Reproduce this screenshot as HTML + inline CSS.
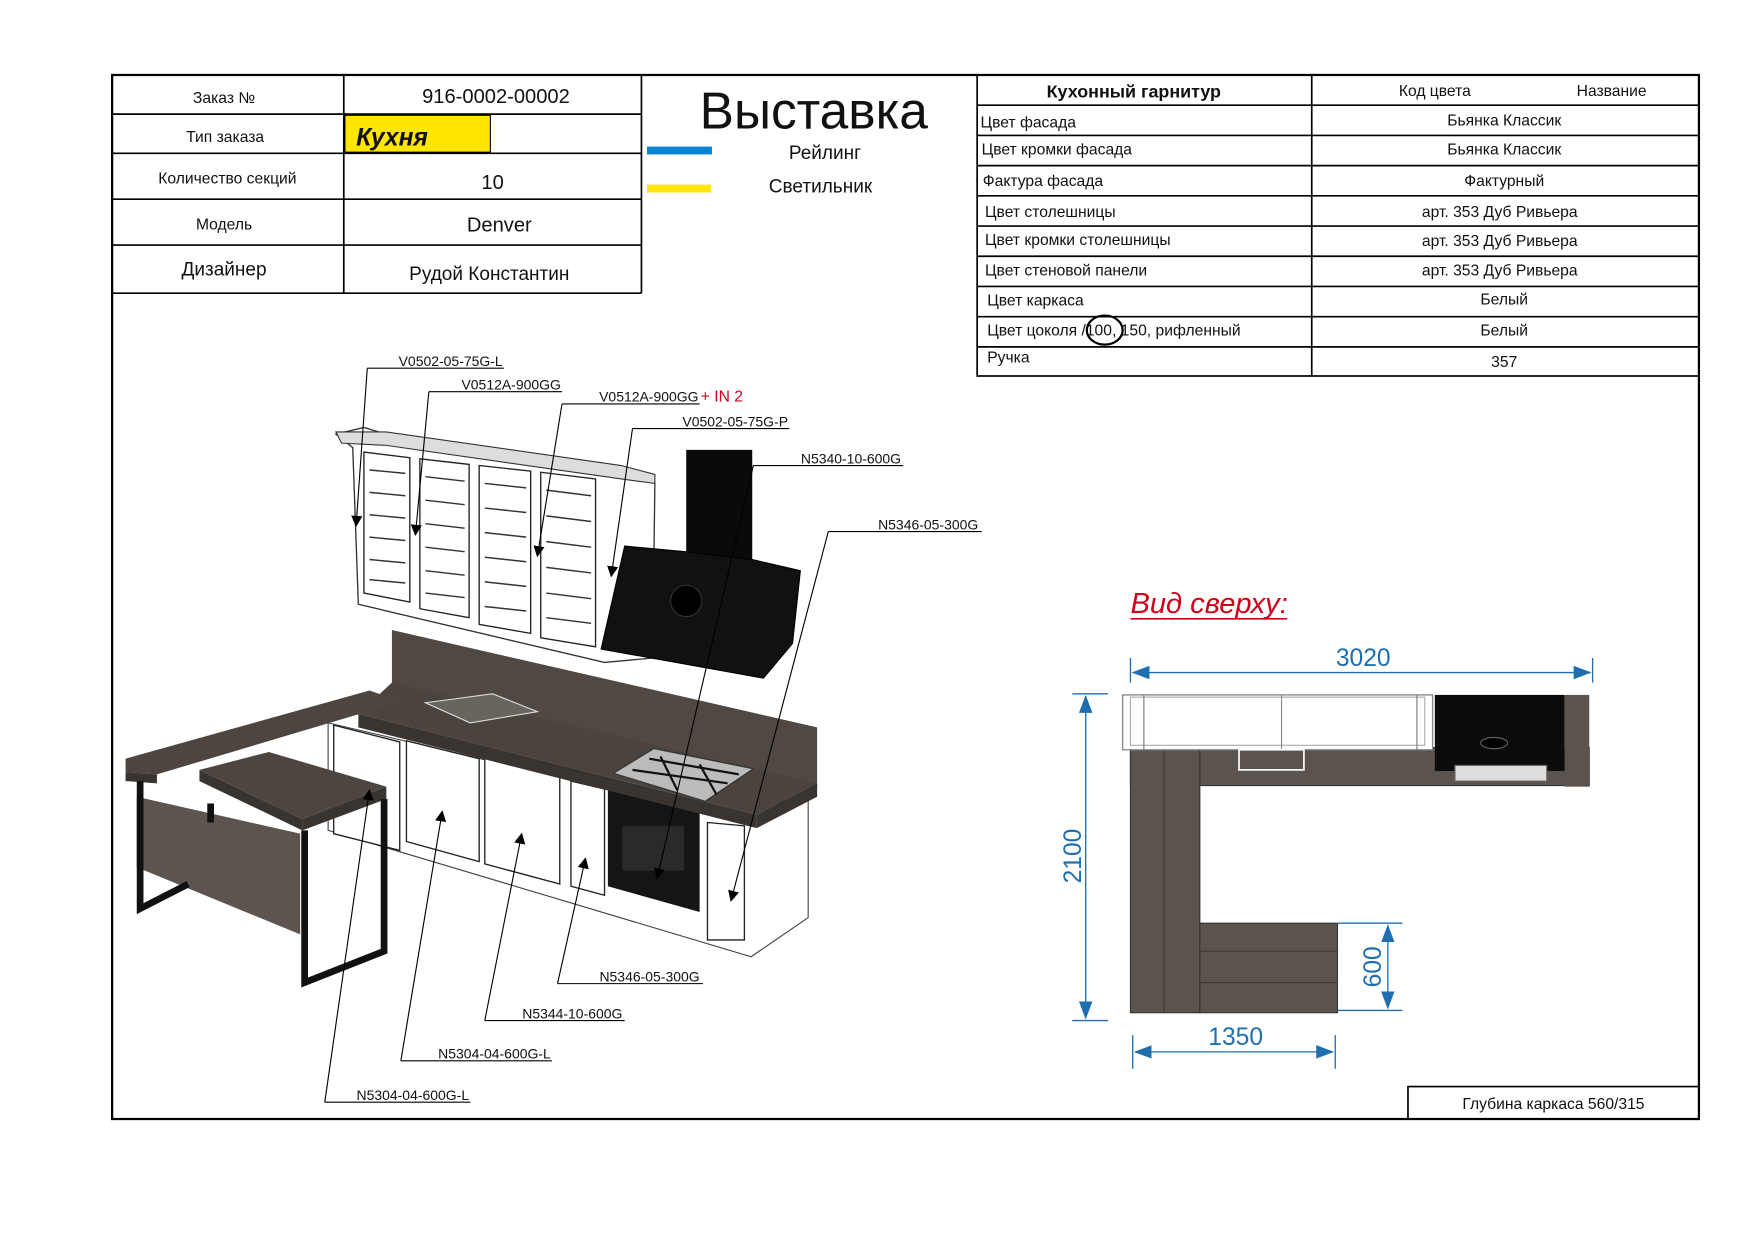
<!DOCTYPE html>
<html><head><meta charset="utf-8"><style>
html,body{margin:0;padding:0;background:#fff}
svg{display:block}
text{font-family:"Liberation Sans",sans-serif;fill:#111}
.t{font-size:14px}
.v{font-size:18px}
</style></head><body>
<svg width="1754" height="1241" viewBox="0 0 1567 1109" xmlns="http://www.w3.org/2000/svg">
<defs>
<marker id="ar" markerWidth="10" markerHeight="10" refX="9" refY="5" orient="auto" markerUnits="userSpaceOnUse">
<path d="M0,0 L10,5 L0,10 z" fill="#000"/></marker>
<marker id="ba" markerWidth="16" markerHeight="12" refX="15" refY="6" orient="auto" markerUnits="userSpaceOnUse">
<path d="M0,0 L16,6 L0,12 z" fill="#1f6fb0"/></marker>
</defs>
<rect x="0" y="0" width="1567" height="1109" fill="#fff"/>
<rect x="100" y="67" width="1418" height="933" fill="none" stroke="#000" stroke-width="2"/>
<g stroke="#000" stroke-width="1.5" fill="none">
<line x1="100" y1="102" x2="573" y2="102"/><line x1="100" y1="137" x2="573" y2="137"/>
<line x1="100" y1="178" x2="573" y2="178"/><line x1="100" y1="219" x2="573" y2="219"/>
<line x1="100" y1="262" x2="573" y2="262"/>
<line x1="307" y1="67" x2="307" y2="262"/><line x1="573" y1="67" x2="573" y2="262"/>
</g>
<rect x="308" y="103" width="130" height="33" fill="#ffe600" stroke="#000" stroke-width="1"/>
<text class="t" x="200" y="92" text-anchor="middle">Заказ №</text>
<text class="t" x="201" y="127" text-anchor="middle">Тип заказа</text>
<text class="t" x="203" y="164" text-anchor="middle">Количество секций</text>
<text class="t" x="200" y="205" text-anchor="middle">Модель</text>
<text x="200" y="246" text-anchor="middle" style="font-size:17px">Дизайнер</text>
<text class="v" x="443" y="92" text-anchor="middle">916-0002-00002</text>
<text x="318" y="130" style="font-size:22px;font-weight:bold;font-style:italic">Кухня</text>
<text class="v" x="440" y="169" text-anchor="middle">10</text>
<text class="v" x="446" y="207" text-anchor="middle">Denver</text>
<text x="437" y="250" text-anchor="middle" style="font-size:17px">Рудой Константин</text>
<text x="727" y="115" text-anchor="middle" style="font-size:46px">Выставка</text>
<rect x="578" y="131" width="58" height="7" fill="#0a84d0"/>
<rect x="578" y="165" width="57" height="7" fill="#ffe600"/>
<text x="737" y="142" text-anchor="middle" style="font-size:17px">Рейлинг</text>
<text x="733" y="172" text-anchor="middle" style="font-size:17px">Светильник</text>
<g stroke="#000" stroke-width="1.5" fill="none">
<rect x="873" y="67" width="645" height="269"/>
<line x1="1172" y1="67" x2="1172" y2="336"/>
<line x1="873" y1="94" x2="1518" y2="94"/><line x1="873" y1="121" x2="1518" y2="121"/>
<line x1="873" y1="148" x2="1518" y2="148"/><line x1="873" y1="175" x2="1518" y2="175"/>
<line x1="873" y1="202" x2="1518" y2="202"/><line x1="873" y1="229" x2="1518" y2="229"/>
<line x1="873" y1="256" x2="1518" y2="256"/><line x1="873" y1="283" x2="1518" y2="283"/>
<line x1="873" y1="310" x2="1518" y2="310"/>
</g>
<text x="1013" y="87" text-anchor="middle" style="font-size:16px;font-weight:bold">Кухонный гарнитур</text>
<text class="t" x="1282" y="86" text-anchor="middle">Код цвета</text>
<text class="t" x="1440" y="86" text-anchor="middle">Название</text>
<text class="t" x="876" y="114">Цвет фасада</text>
<text class="t" x="877" y="138">Цвет кромки фасада</text>
<text class="t" x="878" y="166">Фактура фасада</text>
<text class="t" x="880" y="194">Цвет столешницы</text>
<text class="t" x="880" y="219">Цвет кромки столешницы</text>
<text class="t" x="880" y="246">Цвет стеновой панели</text>
<text class="t" x="882" y="273">Цвет каркаса</text>
<text class="t" x="882" y="300">Цвет цоколя /100, 150, рифленный</text>
<text class="t" x="882" y="324">Ручка</text>
<text class="t" x="1344" y="112" text-anchor="middle">Бьянка Классик</text>
<text class="t" x="1344" y="138" text-anchor="middle">Бьянка Классик</text>
<text class="t" x="1344" y="166" text-anchor="middle">Фактурный</text>
<text class="t" x="1340" y="194" text-anchor="middle">арт. 353 Дуб Ривьера</text>
<text class="t" x="1340" y="220" text-anchor="middle">арт. 353 Дуб Ривьера</text>
<text class="t" x="1340" y="246" text-anchor="middle">арт. 353 Дуб Ривьера</text>
<text class="t" x="1344" y="272" text-anchor="middle">Белый</text>
<text class="t" x="1344" y="300" text-anchor="middle">Белый</text>
<text class="t" x="1344" y="328" text-anchor="middle">357</text>
<ellipse cx="987" cy="295" rx="16" ry="13" fill="none" stroke="#000" stroke-width="2"/>
<rect x="1258" y="971" width="260" height="29" fill="none" stroke="#000" stroke-width="1.5"/>
<text class="t" x="1388" y="991" text-anchor="middle">Глубина каркаса 560/315</text>

<polygon points="300,388 325,382 345,388 555,420 582,424 585,432 583,588 540,592 320,540 315,400" fill="#fff" stroke="#333" stroke-width="1.2"/>
<polygon points="300,386 345,386 555,416 585,424 585,432 555,428 345,398 305,396" fill="#ddd" stroke="#333" stroke-width="1"/>
<g fill="#fff" stroke="#222" stroke-width="1.2">
<polygon points="325,404 366,409 366,538 325,530"/>
<polygon points="375,410 419,415 419,552 375,544"/>
<polygon points="428,416 474,421 474,566 428,558"/>
<polygon points="483,422 532,428 532,578 483,570"/>
</g>
<g stroke="#333" stroke-width="1.3">
<line x1="330" y1="420" x2="362" y2="423"/><line x1="330" y1="440" x2="362" y2="443"/><line x1="330" y1="460" x2="362" y2="463"/><line x1="330" y1="480" x2="362" y2="483"/><line x1="330" y1="500" x2="362" y2="503"/><line x1="330" y1="518" x2="362" y2="521"/>
<line x1="380" y1="426" x2="415" y2="430"/><line x1="380" y1="447" x2="415" y2="451"/><line x1="380" y1="468" x2="415" y2="472"/><line x1="380" y1="489" x2="415" y2="493"/><line x1="380" y1="510" x2="415" y2="514"/><line x1="380" y1="530" x2="415" y2="534"/>
<line x1="433" y1="432" x2="470" y2="436"/><line x1="433" y1="454" x2="470" y2="458"/><line x1="433" y1="476" x2="470" y2="480"/><line x1="433" y1="498" x2="470" y2="502"/><line x1="433" y1="520" x2="470" y2="524"/><line x1="433" y1="542" x2="470" y2="546"/>
<line x1="488" y1="438" x2="528" y2="443"/><line x1="488" y1="461" x2="528" y2="466"/><line x1="488" y1="484" x2="528" y2="489"/><line x1="488" y1="507" x2="528" y2="512"/><line x1="488" y1="530" x2="528" y2="535"/><line x1="488" y1="552" x2="528" y2="557"/>
</g>
<rect x="613" y="402" width="59" height="100" fill="#0a0a0a"/>
<polygon points="558,488 612,493 672,500 715,510 708,575 682,606 537,580" fill="#111" stroke="#000"/>
<circle cx="613" cy="537" r="14" fill="#000" stroke="#333"/>
<polygon points="350,563 730,650 730,705 350,612" fill="#4f4843"/>
<polygon points="293,646 671,735 722,700 722,820 671,855 293,742" fill="#fff" stroke="#444" stroke-width="1"/>
<g fill="#fff" stroke="#222" stroke-width="1.2">
<polygon points="298,648 357,663 357,760 298,745"/>
<polygon points="363,662 428,678 428,770 363,752"/>
<polygon points="433,677 500,693 500,790 433,772"/>
<polygon points="510,698 540,705 540,800 510,792"/>
<polygon points="632,735 665,738 665,840 632,840"/>
</g>
<polygon points="543,700 625,720 625,815 543,792" fill="#151515"/>
<rect x="556" y="738" width="55" height="40" fill="#2a2a2a"/>
<polygon points="350,610 730,700 676,728 320,638" fill="#4a433e"/>
<polygon points="320,638 676,728 676,740 320,650" fill="#3a3430"/>
<polygon points="676,728 730,700 730,712 676,740" fill="#3a3430"/>
<polygon points="380,628 440,620 480,636 420,646" fill="#6a645f" stroke="#ddd"/>
<polygon points="548,691 584,669 673,687 630,716" fill="#bbb" stroke="#333"/>
<g stroke="#111" stroke-width="2"><line x1="565" y1="688" x2="650" y2="700"/><line x1="580" y1="678" x2="660" y2="692"/><line x1="590" y1="676" x2="605" y2="706"/><line x1="625" y1="683" x2="640" y2="710"/></g>
<polygon points="112,678 330,617 358,627 140,692 112,690" fill="#4d4640"/>
<polygon points="112,690 140,692 140,700 112,698" fill="#3a3430"/>
<polygon points="122,712 268,745 268,835 122,775" fill="#5c554f"/>
<polygon points="178,688 240,672 345,703 270,732" fill="#4d4640"/>
<polygon points="178,688 270,732 270,742 178,698" fill="#3a3430"/>
<polygon points="270,732 345,703 345,714 270,742" fill="#3a3430"/>
<g fill="none" stroke="#111" stroke-width="6">
<polyline points="125,698 125,812 168,790"/>
<polyline points="272,742 272,878 343,850 343,714"/>
<line x1="188" y1="718" x2="188" y2="735"/>
</g>

<g stroke="#000" stroke-width="1" fill="none">
<line x1="328" y1="329" x2="450" y2="329"/><line x1="328" y1="329" x2="318" y2="470" marker-end="url(#ar)"/>
<line x1="383" y1="350" x2="502" y2="350"/><line x1="383" y1="350" x2="371" y2="478" marker-end="url(#ar)"/>
<line x1="502" y1="361" x2="625" y2="361"/><line x1="502" y1="361" x2="480" y2="497" marker-end="url(#ar)"/>
<line x1="565" y1="383" x2="705" y2="383"/><line x1="565" y1="383" x2="546" y2="515" marker-end="url(#ar)"/>
<line x1="673" y1="416" x2="807" y2="416"/><line x1="673" y1="416" x2="587" y2="785" marker-end="url(#ar)"/>
<line x1="740" y1="475" x2="877" y2="475"/><line x1="740" y1="475" x2="653" y2="805" marker-end="url(#ar)"/>
<line x1="498" y1="879" x2="628" y2="879"/><line x1="498" y1="879" x2="523" y2="767" marker-end="url(#ar)"/>
<line x1="433" y1="912" x2="558" y2="912"/><line x1="433" y1="912" x2="466" y2="745" marker-end="url(#ar)"/>
<line x1="358" y1="948" x2="493" y2="948"/><line x1="358" y1="948" x2="395" y2="725" marker-end="url(#ar)"/>
<line x1="290" y1="985" x2="420" y2="985"/><line x1="290" y1="985" x2="330" y2="706" marker-end="url(#ar)"/>
</g>
<g style="font-size:12.5px">
<text x="449" y="327" text-anchor="end">V0502-05-75G-L</text>
<text x="501" y="348" text-anchor="end">V0512A-900GG</text>
<text x="624" y="359" text-anchor="end">V0512A-900GG</text>
<text x="626" y="359" style="fill:#d0001a;font-size:14px">+ IN 2</text>
<text x="704" y="381" text-anchor="end">V0502-05-75G-P</text>
<text x="805" y="414" text-anchor="end">N5340-10-600G</text>
<text x="874" y="473" text-anchor="end">N5346-05-300G</text>
<text x="625" y="877" text-anchor="end">N5346-05-300G</text>
<text x="556" y="910" text-anchor="end">N5344-10-600G</text>
<text x="492" y="946" text-anchor="end">N5304-04-600G-L</text>
<text x="419" y="983" text-anchor="end">N5304-04-600G-L</text>
</g>

<text x="1010" y="548" style="font-size:26px;font-style:italic;fill:#d0001a">Вид сверху:</text>
<line x1="1010" y1="553" x2="1150" y2="553" stroke="#d0001a" stroke-width="1.5"/>
<rect x="1010" y="668" width="410" height="34" fill="#5b544e" stroke="#333"/>
<rect x="1010" y="668" width="62" height="237" fill="#5b544e" stroke="#333"/>
<rect x="1072" y="825" width="123" height="80" fill="#5b544e" stroke="#333"/>
<g stroke="#3e3833" stroke-width="1"><line x1="1072" y1="850" x2="1195" y2="850"/><line x1="1072" y1="878" x2="1195" y2="878"/><line x1="1040" y1="670" x2="1040" y2="905"/></g>
<rect x="1003" y="621" width="277" height="49" fill="#fff" stroke="#888" stroke-width="1.2"/>
<rect x="1010" y="623" width="263" height="43" fill="none" stroke="#aaa"/>
<line x1="1145" y1="621" x2="1145" y2="670" stroke="#888"/>
<line x1="1022" y1="621" x2="1022" y2="670" stroke="#777"/>
<line x1="1266" y1="621" x2="1266" y2="670" stroke="#777"/>
<rect x="1107" y="670" width="58" height="18" fill="none" stroke="#fff" stroke-width="1.5"/>
<rect x="1282" y="621" width="116" height="68" fill="#0c0c0c"/>
<rect x="1398" y="621" width="22" height="82" fill="#5b544e"/>
<ellipse cx="1335" cy="664" rx="12" ry="5" fill="#000" stroke="#666"/>
<rect x="1300" y="684" width="82" height="14" fill="#ddd" stroke="#666"/>
<g stroke="#1f6fb0" stroke-width="1.2" fill="none">
<line x1="1010" y1="588" x2="1010" y2="610"/><line x1="1423" y1="588" x2="1423" y2="610"/>
<line x1="1215" y1="601" x2="1012" y2="601" marker-end="url(#ba)"/><line x1="1215" y1="601" x2="1421" y2="601" marker-end="url(#ba)"/>
<line x1="958" y1="620" x2="990" y2="620"/><line x1="958" y1="912" x2="990" y2="912"/>
<line x1="970" y1="765" x2="970" y2="622" marker-end="url(#ba)"/><line x1="970" y1="765" x2="970" y2="910" marker-end="url(#ba)"/>
<line x1="1195" y1="825" x2="1253" y2="825"/><line x1="1195" y1="903" x2="1253" y2="903"/>
<line x1="1240" y1="864" x2="1240" y2="827" marker-end="url(#ba)"/><line x1="1240" y1="864" x2="1240" y2="901" marker-end="url(#ba)"/>
<line x1="1012" y1="925" x2="1012" y2="955"/><line x1="1193" y1="925" x2="1193" y2="955"/>
<line x1="1100" y1="940" x2="1014" y2="940" marker-end="url(#ba)"/><line x1="1100" y1="940" x2="1191" y2="940" marker-end="url(#ba)"/>
</g>
<text x="1218" y="595" text-anchor="middle" style="fill:#1f6fb0;font-size:22px">3020</text>
<text x="1104" y="934" text-anchor="middle" style="fill:#1f6fb0;font-size:22px">1350</text>
<text transform="translate(966,765) rotate(-90)" text-anchor="middle" style="fill:#1f6fb0;font-size:22px">2100</text>
<text transform="translate(1234,864) rotate(-90)" text-anchor="middle" style="fill:#1f6fb0;font-size:22px">600</text>
</svg>
</body></html>
